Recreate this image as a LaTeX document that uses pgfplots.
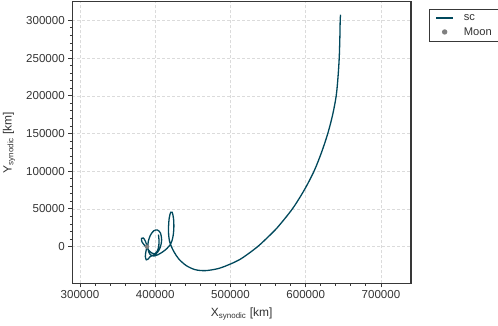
\documentclass[border=0pt]{standalone}
\usepackage{fontspec}
\setmainfont{Liberation Sans}
\usepackage{pgfplots}
\pgfplotsset{compat=1.18}
\definecolor{sccol}{RGB}{0,72,92}
\definecolor{txt}{gray}{0.2}
\definecolor{spine}{gray}{0.22}
\definecolor{gridc}{gray}{0.86}
\definecolor{moon}{gray}{0.5}
\begin{document}
\begin{tikzpicture}
\begin{axis}[
  scale only axis, width=338.7bp, height=281.6bp,
  xmin=289770, xmax=739900, ymin=-48600, ymax=324800,
  axis line style={spine, line width=1.3bp},
  tick style={spine, line width=0.9bp},
  major tick length=4bp, minor tick length=2.5bp,
  tick align=outside, tick pos=left,
  minor tick num=4,
  xtick={300000,400000,500000,600000,700000},
  ytick={0,50000,100000,150000,200000,250000,300000},
  scaled ticks=false,
  /pgf/number format/fixed,
  /pgf/number format/precision=0,
  /pgf/number format/1000 sep={},
  /pgf/number format/assume math mode=true,
  ticklabel style={font=\fontsize{11.6}{13}\selectfont, text=txt},
  grid=major, major grid style={gridc, dash pattern=on 3bp off 2bp, line width=0.6bp},
  label style={font=\fontsize{12}{14}\selectfont, text=txt},
  xlabel={X\textsubscript{synodic} [km]},
  ylabel={Y\textsubscript{synodic} [km]},
  xlabel style={at={(axis description cs:0.5,-0.109)}, anchor=center},
  ylabel style={at={(axis description cs:-0.187,0.5)}, anchor=center},
  legend style={at={(1,1)}, anchor=north west, xshift=18.3bp, yshift=-7.5bp,
    draw=spine, fill=white, font=\fontsize{11.2}{13}\selectfont,
    text=txt, inner xsep=6bp, inner ysep=3bp, row sep=1.5bp,
    /tikz/every odd column/.append style={column sep=8bp}},
  legend cell align=left,
  legend image post style={line width=1.3bp},
]
\addplot[sccol, line width=1.3bp, smooth, tension=0.5] coordinates {
(646300,307500) (645800,300000) (645300,275000) (644500,250000) (642900,225000)
(640500,200000) (635800,175000) (629300,150000) (621000,125000) (611000,100000)
(598000,75000) (582200,50000) (562000,25000) (548000,11000) (537800,1500)
(527000,-7000) (513300,-16500) (500000,-23000) (484000,-29000) (466700,-31800)
(453000,-30500) (441000,-25000) (431000,-16000) (425000,-7000) (421500,0)
(419000,7000) (417800,16000) (417700,27000) (418600,38000) (420500,45500)
(422500,45500) (424200,38000) (424800,27000) (424000,16000) (422300,8000)
(419500,2000) (415500,-2500) (410500,-6500) (404000,-10500) (397500,-12500)
(392500,-9500) (390200,-2000) (390800,7000) (393500,15000) (398000,21000)
(403000,22000) (407000,18000) (408500,9000) (407000,0) (403500,-7000)
(398500,-11000) (393500,-13000) (390500,-16500) (388200,-17500) (386800,-13000)
(387800,-5500) (389000,0) (387000,7000) (384200,11500) (381800,11000)
(382300,6500) (386000,1500) (390000,-3000) (394000,-7500) (399000,-9500)
(403000,-5500) (404800,2000) (404900,10000) (404200,16000)
};
\addlegendentry{sc}
\addplot[only marks, mark=*, mark size=2bp, moon] coordinates {(389000,0)};
\addlegendentry{Moon}
\end{axis}
\pgfresetboundingbox
\useasboundingbox (-72.3bp,-42.7bp) rectangle (425.7bp,283.3bp);
\end{tikzpicture}
\end{document}
